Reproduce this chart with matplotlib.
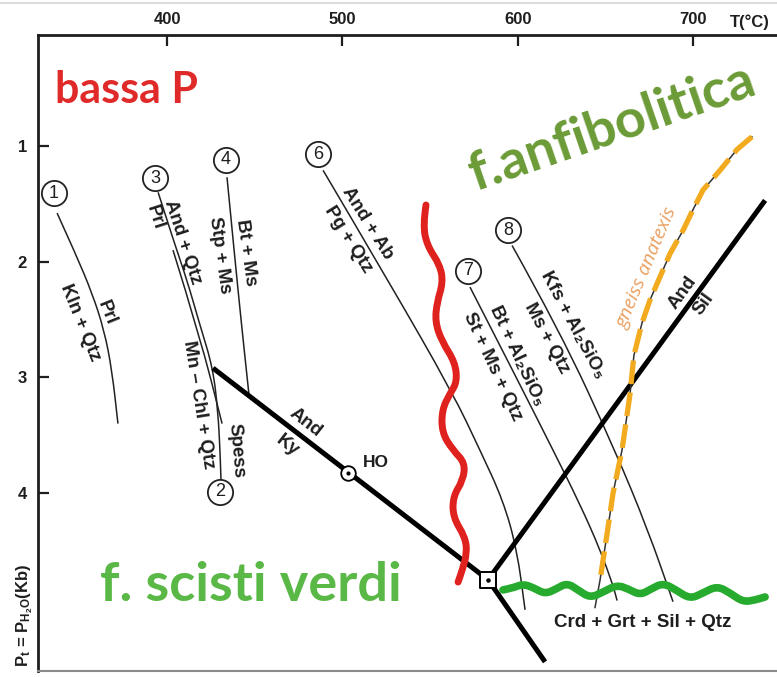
import matplotlib
matplotlib.use("Agg")
import matplotlib.pyplot as plt
from matplotlib.path import Path
from matplotlib.patches import PathPatch
from matplotlib.lines import Line2D

plt.rcParams["mathtext.fontset"] = "custom"
plt.rcParams["mathtext.rm"] = "Liberation Sans:bold"
plt.rcParams["mathtext.it"] = "Liberation Sans:bold"
plt.rcParams["mathtext.bf"] = "Liberation Sans:bold"

LABEL_FONT = ["Liberation Sans", "DejaVu Sans"]
BIG_FONT = ["Lato", "DejaVu Sans"]

# ---- axis ticks -------------------------------------------------------
t_ticks = [400, 500, 600, 700]
p_ticks = [1, 2, 3, 4]
t_range = (326.4, 747.9)
p_range = (5.539, 0.040)

# ---- reaction curves (T in degC, P in kbar) --------------------------
r1_T = [337.3, 348.1, 357.2, 364.1, 368.6, 372.0]
r1_P = [1.58, 1.94, 2.27, 2.59, 2.94, 3.40]

r3_T = [394.9, 404.6, 411.4, 418.8, 426.2, 429.1, 430.2, 430.8]
r3_P = [1.40, 1.86, 2.16, 2.55, 2.92, 3.31, 3.63, 3.90]

r2_T = [403.4, 418.8, 431.4]
r2_P = [1.90, 2.65, 3.40]

r4_T = [434.2, 438.8, 442.8, 446.8]
r4_P = [1.27, 1.99, 2.59, 3.16]

r6_T = [489.0, 526.0, 563.1, 578.5, 591.6, 599.6, 604.2]
r6_P = [1.21, 2.16, 3.14, 3.63, 4.06, 4.49, 5.01]

r7_T = [572.8, 598.5, 620.2, 635.6, 647.0, 654.4, 656.7]
r7_P = [2.22, 2.98, 3.63, 4.10, 4.49, 4.80, 4.93]

r8_T = [596.8, 624.1, 655.5, 674.3, 688.6]
r8_P = [1.86, 2.60, 3.63, 4.32, 4.94]

# Al2SiO5 polymorph boundaries
and_ky_T = [426.2, 583.1]
and_ky_P = [2.92, 4.75]
ky_sil_T = [583.1, 615.6]
ky_sil_P = [4.75, 5.46]
and_sil_T = [583.1, 741.1]
and_sil_P = [4.75, 1.47]
triple_T, triple_P = 583.1, 4.75
ho_T, ho_P = 503.2, 3.83

# metamorphic facies limits
red_T = [547.7, 546.0, 548.3, 555.7, 557.4, 554.0, 552.9, 556.8, 564.3, 565.4, 561.4,
         556.8, 556.8, 563.1, 570.0, 568.8, 563.1, 563.1, 570.0, 571.1, 568.3, 566.0]
red_P = [1.51, 1.68, 1.86, 2.03, 2.18, 2.35, 2.52, 2.69, 2.87, 3.04, 3.14,
         3.28, 3.48, 3.63, 3.74, 3.89, 4.03, 4.21, 4.38, 4.52, 4.67, 4.77]

green_T = [591.6, 597.3, 603.0, 609.3, 615.6, 621.9, 628.1, 634.4, 641.3, 648.7,
           656.6, 663.1, 669.8, 676.1, 682.9, 690.3, 698.3, 705.7, 713.7, 721.1,
           728.5, 735.4, 741.1]
green_P = [4.838, 4.821, 4.786, 4.821, 4.873, 4.830, 4.778, 4.838, 4.907, 4.856,
           4.795, 4.830, 4.882, 4.830, 4.778, 4.838, 4.916, 4.864, 4.804, 4.864,
           4.942, 4.925, 4.899]

melt_T = [733.6, 725.1, 715.4, 705.7, 700.0, 694.3, 686.9, 681.2, 675.5, 670.9,
          666.3, 664.1, 659.5, 654.4, 651.0, 648.1, 647.0]
melt_P = [0.92, 1.03, 1.21, 1.38, 1.55, 1.73, 1.93, 2.13, 2.33, 2.53,
          2.81, 3.14, 3.63, 4.00, 4.35, 4.64, 4.75]
melt_end_T, melt_end_P = 644.1, 4.99

# circled reaction numbers
num_labels = ["1", "2", "3", "4", "6", "7", "8"]
num_T = [335.5, 430.2, 393.2, 433.6, 486.1, 571.7, 594.5]
num_P = [1.41, 3.99, 1.28, 1.12, 1.07, 2.08, 1.73]

# phase labels beside the curves: text, T, P, rotation
phase_text = ["Prl", "Kln + Qtz", "Prl", "And + Qtz", "Mn – Chl + Qtz", "Spess",
              "Bt + Ms", "Stp + Ms", "And + Ab", "Pg + Qtz",
              "Bt + Al₂SiO₅", "St + Ms + Qtz", "Kfs + Al₂SiO₅", "Ms + Qtz",
              "And", "Ky", "And", "Sil"]
phase_T = [365.8, 350.4, 393.2, 409.1, 418.2, 439.4,
           445.1, 430.2, 514.6, 503.2,
           599.6, 585.4, 631.6, 616.7,
           479.3, 468.6, 694.3, 706.3]
phase_P = [2.44, 2.53, 1.62, 1.83, 3.24, 3.63,
           1.92, 1.94, 1.67, 1.81,
           2.81, 2.91, 2.55, 2.66,
           3.39, 3.59, 2.27, 2.37]
phase_rot = [-68, -68, -72, -72, -81, -85,
             -82, -82, -58, -58,
             -65, -65, -62, -62,
             -38, -38, 54, 54]


def smooth_path(ts, ps):
    """Quadratic-Bezier path through the midpoints of successive vertices."""
    verts = [(ts[0], ps[0])]
    codes = [Path.MOVETO]
    for i in range(1, len(ts) - 1):
        verts.append((ts[i], ps[i]))
        codes.append(Path.CURVE3)
        verts.append(((ts[i] + ts[i + 1]) / 2, (ps[i] + ps[i + 1]) / 2))
        codes.append(Path.CURVE3)
    verts.append((ts[-1], ps[-1]))
    codes.append(Path.LINETO)
    return Path(verts, codes)


fig = plt.figure(figsize=(7.77, 6.77), dpi=100)
fig.patch.set_facecolor("white")
ax = fig.add_axes([38 / 777, 6 / 677, 1 - 38 / 777, 636 / 677])
ax.set_xlim(*t_range)
ax.set_ylim(*p_range)

ax.spines["right"].set_visible(False)
for side in ("top", "left"):
    ax.spines[side].set_linewidth(2.0)
    ax.spines[side].set_color("#1e1e1e")
ax.spines["bottom"].set_linewidth(1.5)
ax.spines["bottom"].set_color("#8a8a8a")

ax.xaxis.tick_top()
ax.set_xticks(t_ticks)
ax.set_yticks(p_ticks)
ax.set_xticklabels([str(t) for t in t_ticks])
ax.set_yticklabels([str(p) for p in p_ticks])
ax.tick_params(axis="x", direction="in", length=8, width=1.6, pad=6,
               labelsize=12, colors="#1e1e1e")
ax.tick_params(axis="y", direction="in", length=8, width=1.6, pad=8,
               labelsize=12, colors="#1e1e1e")
for lbl in ax.get_xticklabels() + ax.get_yticklabels():
    lbl.set_fontweight("bold")
    lbl.set_family(LABEL_FONT)

fig.text(730 / 777, 1 - 22 / 677, "T(°C)", ha="left", va="center",
         fontsize=12, fontweight="bold", family=LABEL_FONT, color="#1e1e1e")
fig.text(25 / 777, 1 - 615 / 677, r"P$_\mathrm{t}$ = P$_{\mathrm{H_2O}}$(Kb)",
         rotation=90, ha="center", va="center", fontsize=12,
         fontweight="bold", family=LABEL_FONT, color="#1e1e1e")
fig.add_artist(Line2D([0, 1], [1 - 3 / 677, 1 - 3 / 677], color="#dcdcdc",
                      lw=1.5, transform=fig.transFigure))

# thin reaction curves
for ts, ps in [(r1_T, r1_P), (r3_T, r3_P), (r2_T, r2_P), (r4_T, r4_P),
               (r6_T, r6_P), (r7_T, r7_P), (r8_T, r8_P)]:
    ax.add_patch(PathPatch(smooth_path(ts, ps), fill=False, ec="#222222",
                           lw=1.1, capstyle="butt", zorder=3))

# Al2SiO5 boundaries
thick = dict(color="black", lw=3.6, zorder=4, solid_capstyle="butt")
ax.plot(and_ky_T, and_ky_P, **thick)
ax.plot(ky_sil_T, ky_sil_P, **thick)
ax.plot(and_sil_T, and_sil_P, **thick)

# melting curve with dashed highlight
ax.plot(melt_T + [melt_end_T], melt_P + [melt_end_P], color="#333333", lw=1.1, zorder=5)
ax.plot(melt_T, melt_P, color="#f2aa1f", lw=3.8, dashes=(4.5, 1.6),
        dash_capstyle="butt", zorder=6)

# facies limits
ax.add_patch(PathPatch(smooth_path(red_T, red_P), fill=False, ec="#e0221f",
                       lw=5.0, capstyle="round", joinstyle="round", zorder=7))
ax.add_patch(PathPatch(smooth_path(green_T, green_P), fill=False, ec="#27ab2e",
                       lw=5.5, capstyle="round", joinstyle="round", zorder=7))

# invariant points
ax.scatter([triple_T], [triple_P], marker="s", s=120, fc="white", ec="black",
           lw=1.4, zorder=8)
ax.scatter([triple_T], [triple_P], marker="o", s=5, c="black", zorder=9)
ax.scatter([ho_T], [ho_P], marker="o", s=110, fc="white", ec="black",
           lw=1.3, zorder=8)
ax.scatter([ho_T], [ho_P], marker="o", s=4, c="black", zorder=9)
ax.text(519.2, 3.74, "HO", ha="center", va="center", fontsize=12.5,
        fontweight="bold", family=LABEL_FONT, color="#1e1e1e", zorder=9)

# circled numbers
ax.scatter(num_T, num_P, marker="o", s=330, fc="white", ec="#222222",
           lw=1.3, zorder=8)
for s, t, p in zip(num_labels, num_T, num_P):
    ax.text(t, p, s, ha="center", va="center", fontsize=13,
            family=LABEL_FONT, color="#1e1e1e", zorder=9)

# phase labels
for s, t, p, r in zip(phase_text, phase_T, phase_P, phase_rot):
    ax.text(t, p, s, ha="center", va="center", rotation=r,
            rotation_mode="anchor", fontsize=13.5, fontweight="bold",
            family=LABEL_FONT, color="#1e1e1e", zorder=9)

ax.text(671.5, 5.12, "Crd + Grt + Sil + Qtz", ha="center", va="center",
        fontsize=13.5, fontweight="bold", family=LABEL_FONT,
        color="#1e1e1e", zorder=9)
ax.text(673.8, 2.05, "gneiss anatexis", ha="center", va="center", rotation=67,
        rotation_mode="anchor", fontsize=14, style="italic",
        family=["Open Sans", "DejaVu Sans"], color="#eaa060", zorder=9)

# facies names
ax.text(336.1, 0.629, "bassa P", ha="left", va="baseline", fontsize=31,
        fontweight="bold", family=BIG_FONT, color="#e02a2a", zorder=10)
ax.text(361.8, 4.93, "f. scisti verdi", ha="left", va="baseline", fontsize=39,
        fontweight="bold", family=BIG_FONT, color="#5ab846", zorder=10)
ax.text(653.8, 0.84, "f.anfibolitica", ha="center", va="center", rotation=19,
        rotation_mode="anchor", fontsize=39, fontweight="bold",
        family=BIG_FONT, color="#6b9b37", zorder=10)

fig.savefig("out.png", dpi=100, facecolor="white")
